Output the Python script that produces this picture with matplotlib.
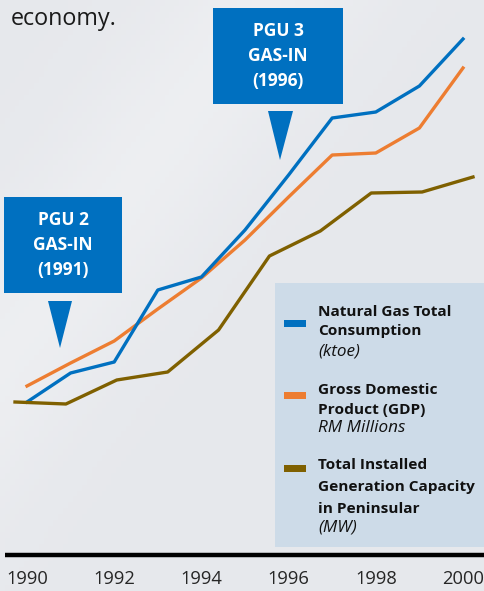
import numpy as np
import matplotlib
matplotlib.use("Agg")
import matplotlib.pyplot as plt
from matplotlib.patches import Rectangle, Polygon

YEARS = [1990, 1991, 1992, 1993, 1994, 1995, 1996, 1997, 1998, 1999, 2000]
TICK_YEARS = [1990, 1992, 1994, 1996, 1998, 2000]

# indexed values (no y scale shown in the original)
GAS = [151, 180, 191, 263, 276, 323, 378, 435, 441, 467, 514]
GDP = [167, 190, 212, 244, 275, 313, 356, 398, 400, 425, 485]
# capacity series is drawn on its own 10-step category axis
CAPACITY = [151, 149, 173, 181, 223, 297, 322, 360, 361, 376]

BLUE = "#0070C0"
ORANGE = "#ED7D31"
OLIVE = "#7F6000"
FONT = "Open Sans"

W, H = 484, 591
fig = plt.figure(figsize=(W / 100, H / 100), dpi=100)

# background gradient
bg = fig.add_axes([0, 0, 1, 1])
yy, xx = np.mgrid[0:1:100j, 0:1:100j]
light = np.exp(-((xx + yy * 0.9 - 0.55) ** 2) / 0.05) * 0.5
base = np.array([0.905, 0.912, 0.928])
top = np.array([0.955, 0.958, 0.965])
img = base[None, None, :] * (1 - light[..., None]) + top[None, None, :] * light[..., None]
bg.imshow(img, extent=[0, 1, 0, 1], origin="upper", aspect="auto")
bg.set_axis_off()

# pixel helper axes (x 0..W, y 0..H top-down)
px = fig.add_axes([0, 0, 1, 1], facecolor="none")
px.set_xlim(0, W)
px.set_ylim(H, 0)
px.set_axis_off()

# main axes: baseline at y=553 px
ax = fig.add_axes([0, 0, 1, 1], facecolor="none")
px_per_year = 43.6
ax.set_xlim(1990 - 27 / px_per_year, 2000 + (W - 463) / px_per_year)
ax.set_ylim(-(H - 553), 553)
ax.set_axis_off()

ax2 = ax.twiny()
step = 50.9
ax2.set_xlim(-15 / step, len(CAPACITY) - 1 + (W - 473) / step)
ax2.set_ylim(-(H - 553), 553)
ax2.set_axis_off()

ax2.plot(range(len(CAPACITY)), CAPACITY, color=OLIVE, lw=2.4)
ax.plot(YEARS, GDP, color=ORANGE, lw=2.4)
ax.plot(YEARS, GAS, color=BLUE, lw=2.4)

# x axis line and labels
px.plot([5, W], [555, 555], color="black", lw=3.2, solid_capstyle="butt")
for yr in TICK_YEARS:
    ax.text(yr, -(579 - 553), str(yr), ha="center", va="center",
            fontsize=13.2, family=FONT, color="#262626")

# top-left fragment of slide text
px.text(11, 19, "economy.", ha="left", va="center", fontsize=16.8,
        family=FONT, color="#1a1a1a")

# callouts
def callout(x0, x1, y0, y1, tri, lines):
    px.add_patch(Rectangle((x0, y0), x1 - x0, y1 - y0, color=BLUE, lw=0))
    px.add_patch(Polygon(tri, closed=True, color=BLUE, lw=0))
    cx = (x0 + x1) / 2
    cy = (y0 + y1) / 2
    for i, t in enumerate(lines):
        px.text(cx, cy + (i - 1) * 25, t, ha="center", va="center", color="white",
                fontsize=12.5, fontweight="bold", family=FONT)

callout(213, 343, 8, 104, [(268, 111), (293, 111), (280, 160)],
        ["PGU 3", "GAS-IN", "(1996)"])
callout(4, 122, 197, 293, [(48, 301), (72, 301), (60, 348)],
        ["PGU 2", "GAS-IN", "(1991)"])

# legend panel
px.add_patch(Rectangle((275, 283), W - 275, 547 - 283, color="#cddbe8", lw=0))
legend_items = [
    (BLUE, 323, [("Natural Gas Total", "bold", 312), ("Consumption", "bold", 331),
                 ("(ktoe)", "italic", 351)]),
    (ORANGE, 395, [("Gross Domestic", "bold", 390), ("Product (GDP)", "bold", 410),
                   ("RM Millions", "italic", 428)]),
    (OLIVE, 468, [("Total Installed", "bold", 465), ("Generation Capacity", "bold", 487),
                  ("in Peninsular", "bold", 509), ("(MW)", "italic", 528)]),
]
for color, sy, lines in legend_items:
    px.add_patch(Rectangle((284, sy - 3.5), 22, 7, color=color, lw=0))
    for text, style, ty in lines:
        if style == "bold":
            kw = {"fontweight": "bold", "fontsize": 11.1}
        else:
            kw = {"fontstyle": "italic", "fontsize": 12.3}
        px.text(318, ty, text, ha="left", va="center", family=FONT,
                color="#111111", **kw)

fig.savefig("out.png", dpi=100)
